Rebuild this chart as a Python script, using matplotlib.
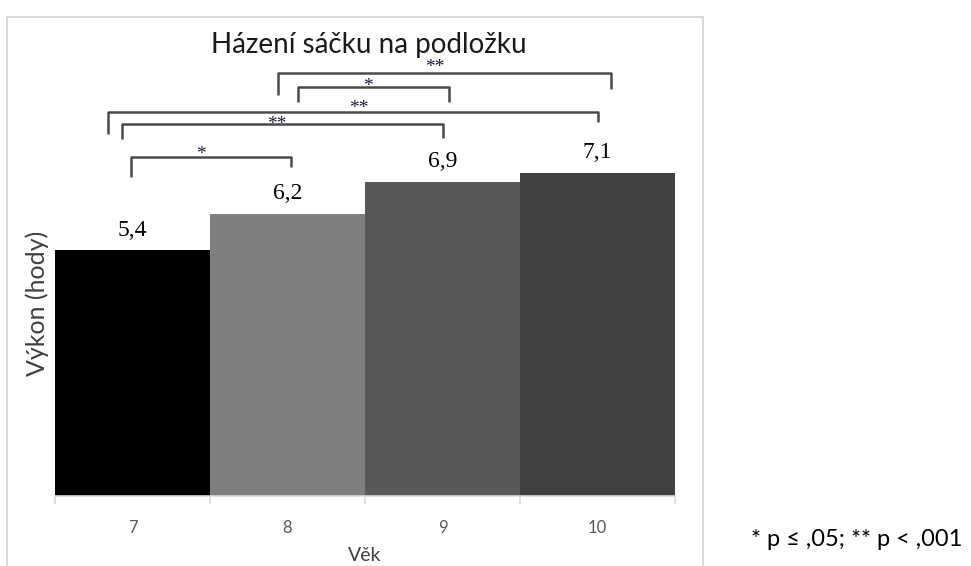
import matplotlib
matplotlib.use("Agg")
import matplotlib.pyplot as plt
from matplotlib.patches import Rectangle

# ─── Data ────────────────────────────────────────────────────
ages   = ['7', '8', '9', '10']
values = [5.4, 6.2, 6.9, 7.1]
colors = ['#000000', '#7f7f7f', '#595959', '#404040']

# comparisons: (bar i, bar j, stars)
pairs = [(1, 3, '**'), (1, 2, '*'), (0, 3, '**'), (0, 2, '**'), (0, 1, '*')]

# bracket geometry (data units): x left, x right, level, left foot, right foot, star x, star baseline
brackets = [
    (0.94, 3.09, 9.30, 8.81, 8.95, 1.95, 9.32),
    (1.07, 2.04, 8.99, 8.66, 8.66, 1.52, 8.90),
    (-0.16, 3.00, 8.44, 7.96, 8.22, 1.46, 8.42),
    (-0.07, 2.00, 8.18, 7.85, 7.87, 0.93, 8.07),
    (-0.01, 1.02, 7.45, 7.01, 7.23, 0.44, 7.41),
]

SANS = ['Lato', 'DejaVu Sans']
SERIF = ['Liberation Serif', 'DejaVu Serif']

fig = plt.figure(figsize=(9.71, 5.66), dpi=100)
fig.patch.set_facecolor('white')

# outer chart border (cut at the bottom like the reference)
fig.patches.append(Rectangle((7 / 971, -0.1), 696 / 971, 1.1 - 17 / 566,
                             transform=fig.transFigure, fill=False,
                             edgecolor='#d9d9d9', lw=1.5))

ax = fig.add_axes([55 / 971, 70 / 566, 620 / 971, 476 / 566])
x = list(range(len(ages)))
ax.bar(x, values, width=1.0, color=colors, edgecolor='none')
ax.set_xlim(-0.5, 3.5)
ax.set_ylim(0, 10.46)

for xi, v in zip(x, values):
    ax.annotate(f'{v:.1f}'.replace('.', ','), (xi, v), xytext=(0, 7),
                textcoords='offset points', ha='center', va='bottom',
                fontsize=17, family=SERIF, color='#000000')

for (i, j, stars), (xl, xr, lvl, fl, fr, sx, sy) in zip(pairs, brackets):
    ax.plot([xl, xl, xr, xr], [fl, lvl, lvl, fr], color='#4a4a4a', lw=1.8,
            solid_capstyle='butt', clip_on=False)
    ax.text(sx, sy, stars, ha='center', va='baseline', fontsize=14,
            family=SERIF, color='#1a1a3a')

for s in ('top', 'right', 'left'):
    ax.spines[s].set_visible(False)
ax.spines['bottom'].set_color('#d9d9d9')
ax.spines['bottom'].set_linewidth(1.2)
ax.set_yticks([])
ax.set_xticks(x, ages, fontsize=12, family=SANS, color='#595959')
ax.tick_params(axis='x', which='major', length=0, pad=17)
ax.set_xticks([-0.5, 0.5, 1.5, 2.5, 3.5], minor=True)
ax.tick_params(axis='x', which='minor', length=6, color='#d9d9d9', width=1.2)

ax.set_xlabel('Věk', fontsize=14, family=SANS, color='#404040', labelpad=8)
fig.text(37 / 971, 1 - 303 / 566, 'Výkon (hody)', rotation=90, ha='center',
         va='center', fontsize=18, family=SANS, color='#404040')

fig.text(369 / 971, 1 - 45 / 566, 'Házení sáčku na podložku', ha='center',
         va='center', fontsize=20, family=SANS, color='#1a1a1a')

fig.text(751 / 971, 1 - 540 / 566, '* p ≤ ,05; ** p < ,001', ha='left',
         va='center', fontsize=17, family=SANS, color='#000000')

fig.savefig('out.png', dpi=100)
